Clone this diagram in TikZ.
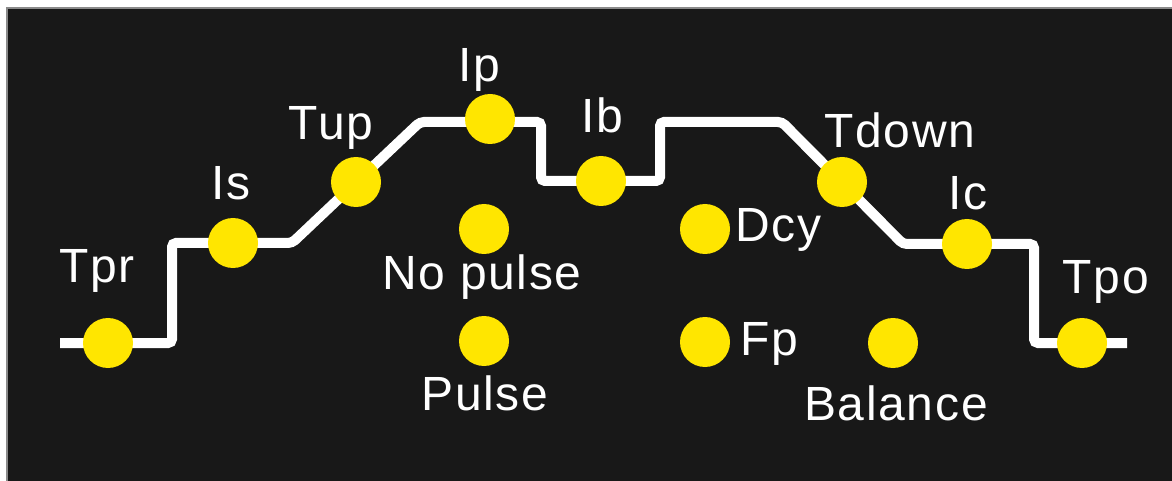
\documentclass[tikz,border=0pt]{standalone}
\usepackage{fontspec}
\setmainfont[LetterSpace=3.5]{Liberation Sans}
\definecolor{panel}{HTML}{181818}
\definecolor{edge}{HTML}{8A8A8A}
\definecolor{dotyellow}{HTML}{FFE600}
\begin{document}
\begin{tikzpicture}[x=0.75pt,y=-0.75pt,
  dot/.style={circle,fill=dotyellow,draw=none,minimum size=37.5pt,inner sep=0pt},
  lbl/.style={text=white,inner sep=0pt,font=\fontsize{36}{40}\selectfont},
  trace/.style={draw=white,line width=7.5pt,rounded corners=3pt,line cap=butt}]
\useasboundingbox (0,0) rectangle (1172,481);
\fill[white] (0,0) rectangle (1172,481);
\fill[panel] (7,8) rectangle (1172,481);
\draw[edge,line width=1pt] (7,481) -- (7,8) -- (1172,8);
% corner coordinates of the trace
\coordinate (s0) at (60,343);
\coordinate (c1) at (172,343);
\coordinate (c2) at (172,243);
\coordinate (c3) at (292,243);
\coordinate (c4) at (420,122);
\coordinate (c5) at (541,122);
\coordinate (c6) at (541,181);
\coordinate (c7) at (660,181);
\coordinate (c8) at (660,122);
\coordinate (c9) at (782,122);
\coordinate (c10) at (903,244);
\coordinate (c11) at (1034,244);
\coordinate (c12) at (1034,343);
\coordinate (e0) at (1127,343);
\draw[trace] (s0) -- (c1) -- (c2) -- (c3) -- (c4) -- (c5) -- (c6) -- (c7) -- (c8) -- (c9) -- (c10) -- (c11) -- (c12) -- (e0);
% dots
\node[dot] (tpr) at (108,343) {};
\node[dot] (is) at (233,243) {};
\node[dot] (tup) at (356,182) {};
\node[dot] (ip) at (490,119) {};
\node[dot] (ib) at (601,181) {};
\node[dot] (tdown) at (842,182) {};
\node[dot] (ic) at (967,244) {};
\node[dot] (tpo) at (1082,343) {};
\node[dot] (nopulse) at (484,229) {};
\node[dot] (pulse) at (484,341) {};
\node[dot] (dcy) at (705,229) {};
\node[dot] (fp) at (705,342) {};
\node[dot] (balance) at (893,343) {};
% labels
\node[lbl,anchor=base] (ltpr) at (97,282) {Tpr};
\node[lbl,anchor=base] (lis) at (231,200) {Is};
\node[lbl,anchor=base] (ltup) at (331,140) {Tup};
\node[lbl,anchor=base] (lip) at (479,82) {Ip};
\node[lbl,anchor=base] (lib) at (602,133) {Ib};
\node[lbl,anchor=base] (ltdown) at (900,148) {Tdown};
\node[lbl,anchor=base] (lic) at (968,210) {Ic};
\node[lbl,anchor=base] (ltpo) at (1106,293) {Tpo};
\node[lbl,anchor=base] (lnopulse) at (482,290) {No pulse};
\node[lbl,anchor=base] (lpulse) at (485,410) {Pulse};
\node[lbl,anchor=base west] (ldcy) at (735,242) {Dcy};
\node[lbl,anchor=base west] (lfp) at (740,355) {Fp};
\node[lbl,anchor=base] (lbalance) at (896,420) {Balance};
\end{tikzpicture}
\end{document}
